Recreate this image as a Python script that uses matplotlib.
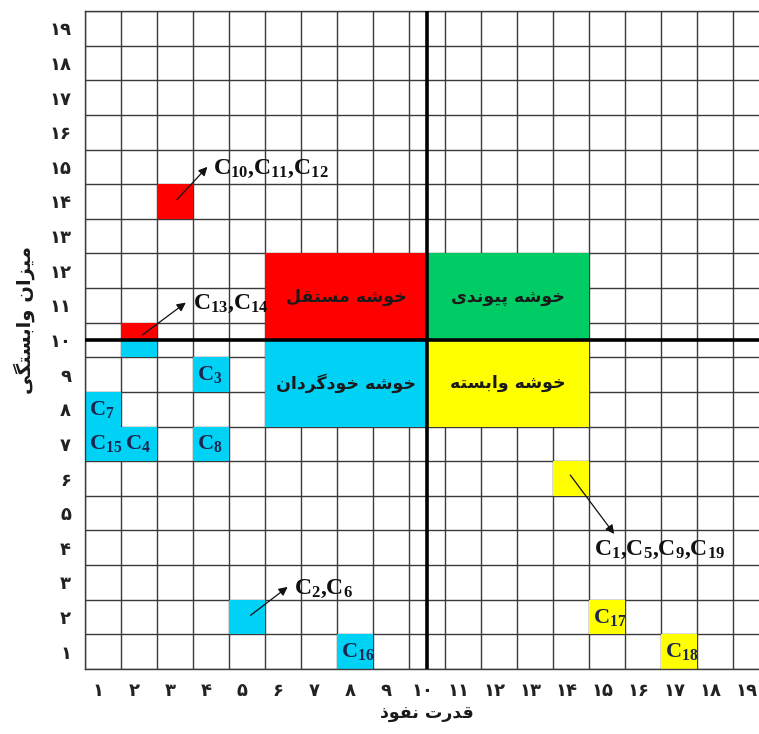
import matplotlib
matplotlib.use('Agg')
import matplotlib.pyplot as plt
from matplotlib.patches import Rectangle
from matplotlib.transforms import ScaledTranslation

# ---------------- data ----------------
tick_values = list(range(1, 20))
tick_labels = ['۱', '۲', '۳', '۴', '۵', '۶', '۷', '۸', '۹', '۱۰',
               '۱۱', '۱۲', '۱۳', '۱۴', '۱۵', '۱۶', '۱۷', '۱۸', '۱۹']
x_title = 'قدرت نفوذ'
y_title = 'میزان وابستگی'

cluster_names = ['خوشه مستقل', 'خوشه پیوندی', 'خوشه خودگردان', 'خوشه وابسته']
cluster_x0 = [5.5, 10, 5.5, 10]
cluster_x1 = [10, 14.5, 10, 14.5]
cluster_y0 = [10, 10, 7.5, 7.5]
cluster_y1 = [12.5, 12.5, 10, 10]
cluster_colors = ['#ff0000', '#00cc66', '#00d2f5', '#ffff00']

cell_names = ['C7', 'C15', 'C4', 'C3', 'C8', 'C16', 'C17', 'C18']
cell_x = [1, 1, 2, 4, 4, 8, 15, 17]
cell_y = [8, 7, 7, 9, 7, 1, 2, 1]
cell_colors = ['#00d2f5'] * 6 + ['#ffff00'] * 2

group_names = [['C10', 'C11', 'C12'], ['C13', 'C14'], ['C2', 'C6'], ['C1', 'C5', 'C9', 'C19']]
group_x = [3, 2, 5, 14]
group_y = [14, 10, 2, 6]
group_colors = ['#ff0000', 'split', '#00d2f5', '#ffff00']
# arrow tail/head and label placement (layout)
arrow_tail = [(3.05, 14.05), (2.1, 10.15), (5.1, 2.05), (13.98, 6.1)]
arrow_head = [(3.9, 15.0), (3.3, 11.08), (6.13, 2.87), (15.2, 4.4)]
label_pos = [(4.05, 14.8), (3.5, 10.9), (6.3, 2.68), (14.65, 3.8)]

# ---------------- Persian shaping ----------------
FORMS = {
    'ا': ('\uFE8D', '\uFE8E', None, None),
    'ب': ('\uFE8F', '\uFE90', '\uFE91', '\uFE92'),
    'پ': ('\uFB56', '\uFB57', '\uFB58', '\uFB59'),
    'ت': ('\uFE95', '\uFE96', '\uFE97', '\uFE98'),
    'خ': ('\uFEA5', '\uFEA6', '\uFEA7', '\uFEA8'),
    'د': ('\uFEA9', '\uFEAA', None, None),
    'ذ': ('\uFEAB', '\uFEAC', None, None),
    'ر': ('\uFEAD', '\uFEAE', None, None),
    'ز': ('\uFEAF', '\uFEB0', None, None),
    'س': ('\uFEB1', '\uFEB2', '\uFEB3', '\uFEB4'),
    'ش': ('\uFEB5', '\uFEB6', '\uFEB7', '\uFEB8'),
    'ف': ('\uFED1', '\uFED2', '\uFED3', '\uFED4'),
    'ق': ('\uFED5', '\uFED6', '\uFED7', '\uFED8'),
    'گ': ('\uFB92', '\uFB93', '\uFB94', '\uFB95'),
    'ل': ('\uFEDD', '\uFEDE', '\uFEDF', '\uFEE0'),
    'م': ('\uFEE1', '\uFEE2', '\uFEE3', '\uFEE4'),
    'ن': ('\uFEE5', '\uFEE6', '\uFEE7', '\uFEE8'),
    'ه': ('\uFEE9', '\uFEEA', '\uFEEB', '\uFEEC'),
    'و': ('\uFEED', '\uFEEE', None, None),
    'ی': ('\uFBFC', '\uFBFD', '\uFBFE', '\uFBFF'),
}


def shape(s):
    out = []
    n = len(s)
    for i, ch in enumerate(s):
        if ch not in FORMS:
            out.append(ch)
            continue
        f = FORMS[ch]
        prev = s[i - 1] if i > 0 else None
        nxt = s[i + 1] if i < n - 1 else None
        jp = prev in FORMS and FORMS[prev][2] is not None
        jn = nxt in FORMS and f[2] is not None
        if jp and jn:
            out.append(f[3])
        elif jp:
            out.append(f[1])
        elif jn:
            out.append(f[2])
        else:
            out.append(f[0])
    return ''.join(out)[::-1]


def ctext(names):
    return '$' + '{,}'.join(r'\mathrm{C}_{%s}' % nm[1:] for nm in names) + '$'


plt.rcParams['mathtext.fontset'] = 'custom'
plt.rcParams['mathtext.rm'] = 'Liberation Serif:bold'
plt.rcParams['mathtext.it'] = 'Liberation Serif:italic:bold'
plt.rcParams['mathtext.bf'] = 'Liberation Serif:bold'
plt.rcParams['font.family'] = ['DejaVu Sans']

W, H = 759, 734
fig = plt.figure(figsize=(W / 100, H / 100), dpi=100)
ax = fig.add_axes([85 / W, 65 / H, 684 / W, 658 / H])
ax.set_xlim(0.5, 19.5)
ax.set_ylim(0.5, 19.5)

# grid
ax.set_axisbelow(True)
ax.set_xticks([v + 0.5 for v in range(0, 20)], minor=True)
ax.set_yticks([v + 0.5 for v in range(0, 20)], minor=True)
ax.grid(which='minor', color='#3a3a3a', lw=1.0)
ax.set_xticks(tick_values)
ax.set_yticks(tick_values)
ax.set_xticklabels(tick_labels, fontsize=13, fontweight='bold', color='#222222')
ax.set_yticklabels(tick_labels, fontsize=13, fontweight='bold', color='#222222')
ax.tick_params(which='both', length=0)
ax.tick_params(axis='x', pad=9)
ax.tick_params(axis='y', pad=10)
shift = ScaledTranslation(-5 / 100, 0, fig.dpi_scale_trans)
for lab in ax.get_xticklabels():
    lab.set_transform(lab.get_transform() + shift)
for sp in ax.spines.values():
    sp.set_color('#3a3a3a')
    sp.set_linewidth(1.0)

# clusters
for nm, x0, x1, y0, y1, c in zip(cluster_names, cluster_x0, cluster_x1,
                                 cluster_y0, cluster_y1, cluster_colors):
    ax.add_patch(Rectangle((x0, y0), x1 - x0, y1 - y0, facecolor=c,
                           edgecolor='none', zorder=2))
    ax.text((x0 + x1) / 2, (y0 + y1) / 2, shape(nm), ha='center', va='center',
            fontsize=12.5, fontweight='bold', color='#1a1a1a', zorder=5)

# single cells
for nm, x, y, c in zip(cell_names, cell_x, cell_y, cell_colors):
    ax.add_patch(Rectangle((x - 0.5, y - 0.5), 1, 1, facecolor=c,
                           edgecolor='none', zorder=2))
    ax.text(x - 0.4, y - 0.16, ctext([nm]), ha='left', va='baseline',
            fontsize=16, color='#1b2650', zorder=5)

# grouped cells with arrows
for names, x, y, c, t, hd, lp in zip(group_names, group_x, group_y, group_colors,
                                     arrow_tail, arrow_head, label_pos):
    if c == 'split':
        ax.add_patch(Rectangle((x - 0.5, y), 1, 0.5, facecolor='#ff0000',
                               edgecolor='none', zorder=2))
        ax.add_patch(Rectangle((x - 0.5, y - 0.5), 1, 0.5, facecolor='#00d2f5',
                               edgecolor='none', zorder=2))
    else:
        ax.add_patch(Rectangle((x - 0.5, y - 0.5), 1, 1, facecolor=c,
                               edgecolor='none', zorder=2))
    ax.annotate('', xy=hd, xytext=t,
                arrowprops=dict(arrowstyle='-|>', color='#111111', lw=0.9,
                                mutation_scale=13, shrinkA=0, shrinkB=0),
                zorder=6)
    ax.text(lp[0], lp[1], ctext(names), ha='left', va='baseline',
            fontsize=17, color='#111111', zorder=6)

# thick dividing lines
ax.axvline(10, color='black', lw=2.6, zorder=4)
ax.axhline(10, color='black', lw=2.6, zorder=4)

fig.text(427 / W, 1 - 713 / H, shape(x_title), ha='center', va='center',
         fontsize=12.5, fontweight='bold', color='#1a1a1a')
fig.text(24 / W, 1 - 320 / H, shape(y_title), ha='center', va='center',
         rotation=90, fontsize=14, fontweight='bold', color='#1a1a1a')

fig.savefig('out.png', dpi=100)
